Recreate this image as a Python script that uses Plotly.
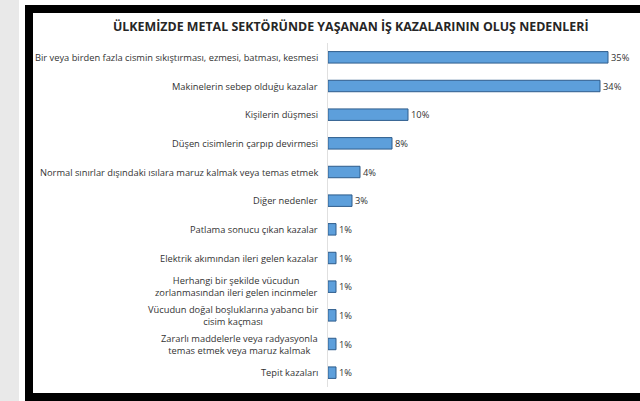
import plotly.graph_objects as go

# Causes of work accidents in the metal sector (share of accidents, %)
causes = [
    "Bir veya birden fazla cismin sıkıştırması, ezmesi, batması, kesmesi",
    "Makinelerin sebep olduğu kazalar",
    "Kişilerin düşmesi",
    "Düşen cisimlerin çarpıp devirmesi",
    "Normal sınırlar dışındaki ısılara maruz kalmak veya temas etmek",
    "Diğer nedenler",
    "Patlama sonucu çıkan kazalar",
    "Elektrik akımından ileri gelen kazalar",
    "Herhangi bir şekilde vücudun<br>zorlanmasından ileri gelen incinmeler",
    "Vücudun doğal boşluklarına yabancı bir<br>cisim kaçması",
    "Zararlı maddelerle veya radyasyonla<br>temas etmek veya maruz kalmak",
    "Tepit kazaları",
]
shares = [35, 34, 10, 8, 4, 3, 1, 1, 1, 1, 1, 1]
share_labels = [f"{v}%" for v in shares]

title_text = "ÜLKEMİZDE METAL SEKTÖRÜNDE YAŞANAN İŞ KAZALARININ OLUŞ NEDENLERİ"

W, H = 640, 401
ML, MR, MT, MB = 328, 0, 43, 14
PW, PH = W - ML - MR, H - MT - MB

FONT = "Open Sans, sans-serif"
TXT = "#333333"


def px_x(x):
    return (x - ML) / PW


def px_y(y):
    return (H - MB - y) / PH


cat_ids = list(range(len(causes)))

fig = go.Figure(
    go.Bar(
        y=cat_ids,
        x=shares,
        orientation="h",
        marker=dict(color="#5d9fdb", line=dict(color="#2e5c8c", width=1)),
        text=share_labels,
        textposition="outside",
        constraintext="none",
        textfont=dict(family=FONT, size=9.3, color=TXT),
        cliponaxis=False,
        width=0.4,
        hoverinfo="skip",
    )
)

# Category labels, right-aligned against the axis, multi-line ones centred
annotations = []
for i, name in zip(cat_ids, causes):
    annotations.append(
        dict(
            x=0, xref="paper", y=i, yref="y",
            text=name, showarrow=False,
            xanchor="right", yanchor="middle", align="center",
            xshift=-8,
            font=dict(family=FONT, size=9.3, color=TXT),
        )
    )

annotations.append(
    dict(
        x=px_x(351), xref="paper", y=px_y(27), yref="paper",
        text=title_text, showarrow=False,
        xanchor="center", yanchor="middle",
        font=dict(family=FONT, size=12.4, color="#262626", weight="bold"),
    )
)

shapes = [
    # grey strip on the far left
    dict(type="rect", xref="paper", yref="paper", layer="below",
         x0=px_x(-5), x1=px_x(19), y0=px_y(-5), y1=px_y(H + 5),
         fillcolor="#e9e9e9", line=dict(width=0)),
    # black frame
    dict(type="rect", xref="paper", yref="paper", layer="below",
         x0=px_x(25), x1=px_x(W + 10), y0=px_y(H + 5), y1=px_y(5),
         fillcolor="#000000", line=dict(width=0)),
    dict(type="rect", xref="paper", yref="paper", layer="below",
         x0=px_x(33), x1=px_x(W + 10), y0=px_y(393), y1=px_y(13),
         fillcolor="#ffffff", line=dict(width=0)),
]

fig.update_layout(
    width=W, height=H,
    margin=dict(l=ML, r=MR, t=MT, b=MB),
    paper_bgcolor="#ffffff",
    plot_bgcolor="rgba(0,0,0,0)",
    showlegend=False,
    annotations=annotations,
    shapes=shapes,
    xaxis=dict(range=[0, PW / 8.0], visible=False, fixedrange=True),
    yaxis=dict(
        range=[len(causes) - 0.5, -0.5],
        showticklabels=False, ticks="",
        showgrid=False, zeroline=False,
        showline=True, linecolor="#e0e0e0", linewidth=1,
        fixedrange=True,
    ),
)

fig.write_html("out.html")
